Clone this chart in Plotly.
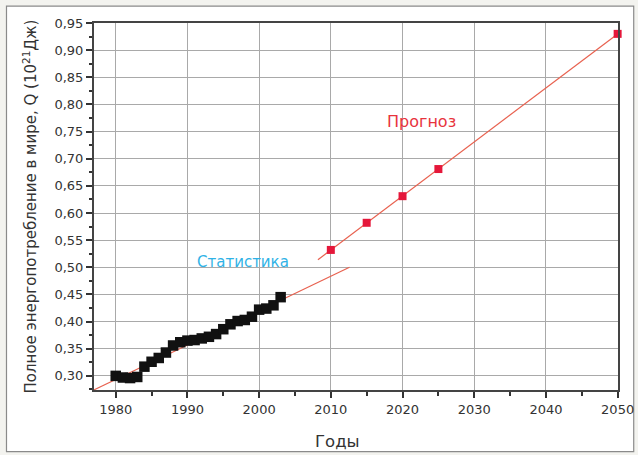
import numpy as np
import plotly.graph_objects as go

# Observed world energy consumption (10^21 J), 1980-2003
stat_years = list(range(1980, 2004))
stat_values = [0.300, 0.297, 0.296, 0.298, 0.317, 0.326, 0.333, 0.343,
               0.356, 0.362, 0.365, 0.366, 0.369, 0.372, 0.377, 0.386,
               0.395, 0.401, 0.403, 0.409, 0.422, 0.424, 0.430, 0.445]

# Forecast values
fc_years = [2010, 2015, 2020, 2025, 2050]
fc_values = [0.532, 0.582, 0.631, 0.681, 0.930]

# Extent of the fitted trend lines
stat_fit_span = [1976.5, 2012.6]
fc_fit_span = [2008.2, 2050]

y_ticks = [round(0.30 + 0.05 * i, 2) for i in range(14)]
x_ticks = list(range(1980, 2051, 10))

stat_coef = np.polyfit(stat_years, stat_values, 1)
fc_coef = np.polyfit(fc_years, fc_values, 1)

LINE_RED = "#e8614f"
FONT = "DejaVu Sans, Verdana, sans-serif"
TXT = "#333333"

fig = go.Figure()

fig.add_trace(go.Scatter(
    x=stat_fit_span, y=np.polyval(stat_coef, stat_fit_span),
    mode="lines", line=dict(color=LINE_RED, width=1.2), showlegend=False))
fig.add_trace(go.Scatter(
    x=fc_fit_span, y=np.polyval(fc_coef, fc_fit_span),
    mode="lines", line=dict(color=LINE_RED, width=1.2), showlegend=False))
fig.add_trace(go.Scatter(
    x=stat_years, y=stat_values, mode="markers",
    marker=dict(symbol="square", size=10.5, color="#111111"),
    showlegend=False))
fig.add_trace(go.Scatter(
    x=fc_years, y=fc_values, mode="markers",
    marker=dict(symbol="square", size=8, color="#e5173a"),
    showlegend=False, cliponaxis=False))

fig.add_annotation(x=1997.7, y=0.509, text="Статистика", showarrow=False,
                   font=dict(family=FONT, size=15, color="#2fb2e6"))
fig.add_annotation(x=2022.7, y=0.769, text="Прогноз", showarrow=False,
                   font=dict(family=FONT, size=16, color="#e8333d"))

# x-axis caption, set slightly left of the plot centre
fig.add_annotation(xref="paper", yref="paper", x=0.464, y=-0.139,
                   xanchor="center", yanchor="middle",
                   text="Годы", showarrow=False,
                   font=dict(family=FONT, size=16.5, color=TXT))

# outer card frame
fig.add_shape(type="rect", xref="paper", yref="paper",
              x0=-0.167, x1=1.03, y0=-0.168, y1=1.046,
              line=dict(color="#8a8a8a", width=1.2),
              fillcolor="white", layer="below")

fig.update_layout(
    width=638, height=455,
    margin=dict(l=94, r=20, t=23, b=65),
    paper_bgcolor="#f3f3ef", plot_bgcolor="white",
    separators=", ",
    font=dict(family=FONT, color=TXT),
)
fig.update_xaxes(
    range=[1976.97, 2050.05], tickvals=x_ticks, automargin=False,
    ticks="outside", ticklen=6, tickwidth=1.5, tickcolor="#333",
    minor=dict(dtick=5, tick0=1975, ticks="outside", ticklen=4, tickcolor="#333", showgrid=False),
    showgrid=True, gridcolor="#a9a9a9", gridwidth=1,
    showline=True, linecolor="#444", linewidth=2, mirror=True,
    tickfont=dict(size=13, color=TXT),
    zeroline=False,
)
fig.update_yaxes(
    range=[0.274, 0.95], tickvals=y_ticks, tickformat=".2f", automargin=False,
    ticks="outside", ticklen=6, tickwidth=1.5, tickcolor="#333",
    minor=dict(dtick=0.025, tick0=0.275, ticks="outside", ticklen=3, tickcolor="#333", showgrid=False),
    showgrid=True, gridcolor="#a9a9a9", gridwidth=1,
    showline=True, linecolor="#444", linewidth=2, mirror=True,
    tickfont=dict(size=13, color=TXT),
    title=dict(text="Полное энергопотребление в мире, Q (10<sup>21</sup>Дж)",
               font=dict(size=15, color=TXT), standoff=14),
    zeroline=False,
)

fig.write_html("out.html")
